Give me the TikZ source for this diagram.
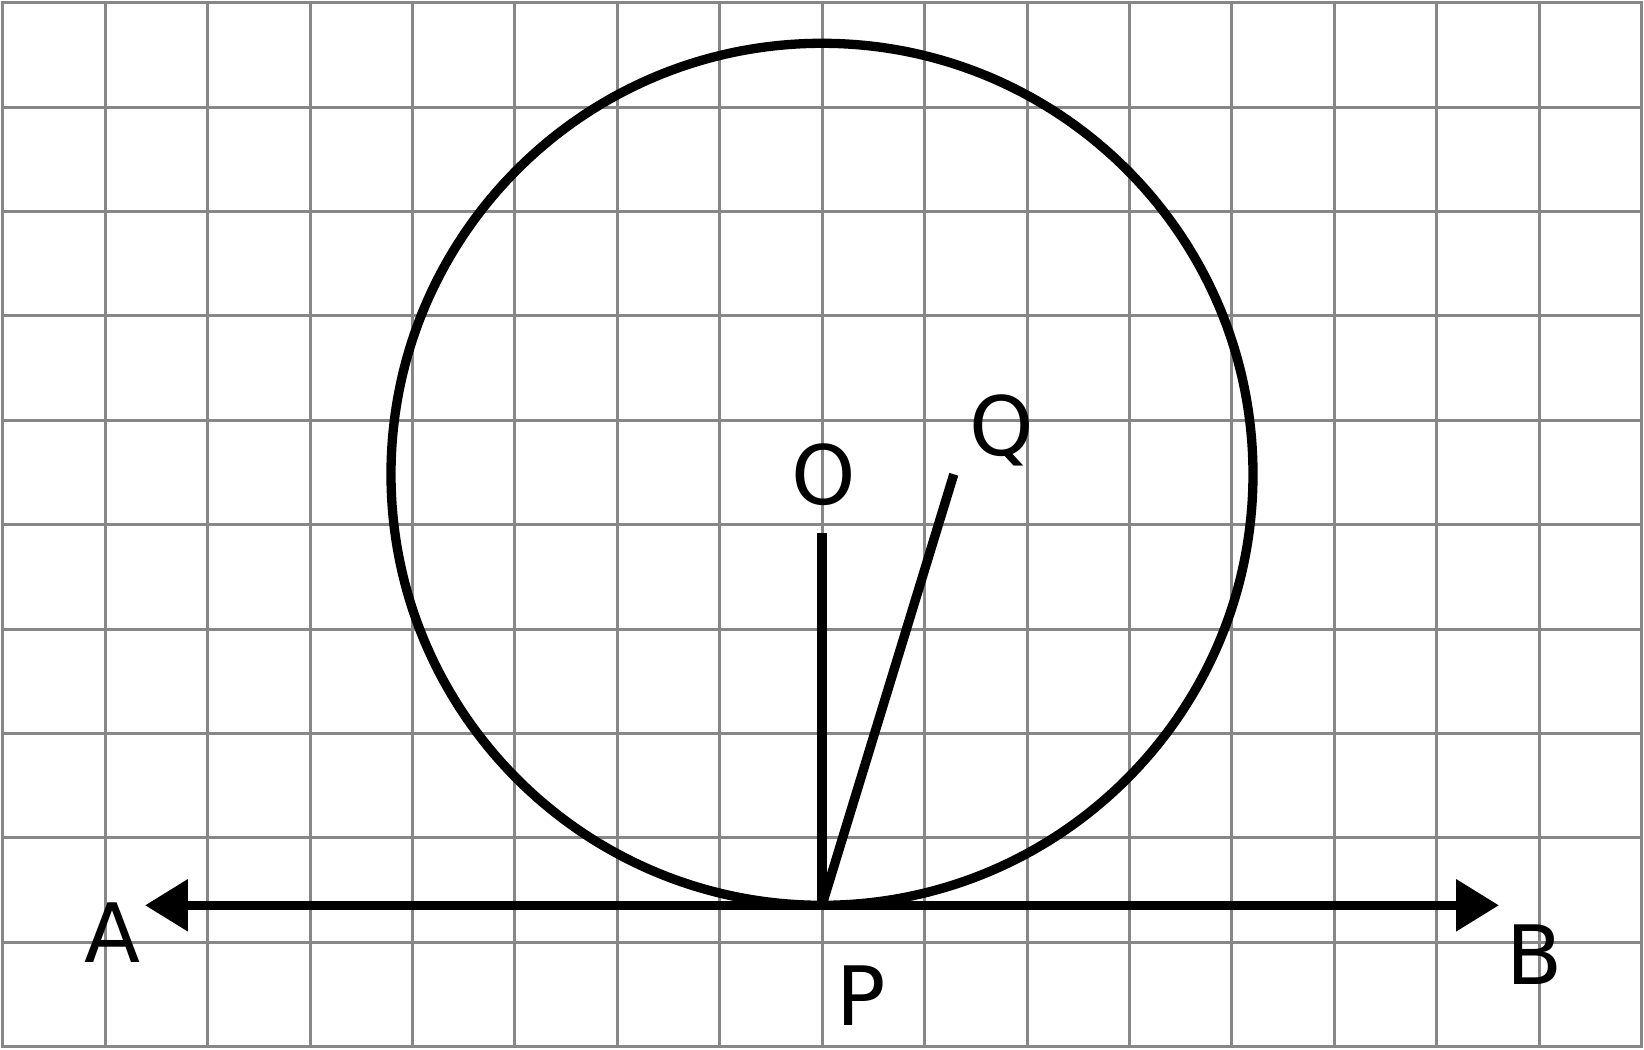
\documentclass[tikz,border=0pt]{standalone}
\usepackage{fontspec}
\setmainfont{DejaVu Sans}
\usepackage{tikz}
\usetikzlibrary{arrows.meta}

\begin{document}
\begin{tikzpicture}[gridline/.style={draw=black!47,line width=0.03cm,line cap=rect},
  figline/.style={draw=black,line width=0.093cm},
  ptlabel/.style={font=\fontsize{23.3pt}{28pt}\selectfont}]
\useasboundingbox (0,0) rectangle (16.44,10.5);
\foreach \i in {0,...,16}
{
    \draw[gridline] (0.027+\i*1.0244,0.033) -- (0.027+\i*1.0244,10.473);
}
\foreach \j in {0,...,10}
{
    \draw[gridline] (0.027,0.033+\j*1.044) -- (16.417,0.033+\j*1.044);
}
\coordinate (O) at (8.22,5.757);
\coordinate (Otop) at (8.22,5.17);
\coordinate (P) at (8.22,1.447);
\coordinate (Q) at (9.538,5.757);
\coordinate (A) at (1.45,1.447);
\coordinate (B) at (14.99,1.447);
\draw[figline] (O) circle[radius=4.31cm];
\node[ptlabel] (Olab) at (8.24,5.75) {O};
\node[ptlabel] (Qlab) at (10.015,6.2) {Q};
\node[ptlabel] (Alab) at (1.13,1.17) {A};
\node[ptlabel] (Blab) at (15.35,0.95) {B};
\node[ptlabel] (Plab) at (8.61,0.54) {P};
\draw[figline] (Otop) -- (P);
\draw[figline] (Q) -- (P);
\draw[figline,<->,>={Triangle[length=0.43cm,width=0.5cm]}] (A) -- (B);
\end{tikzpicture}
\end{document}
